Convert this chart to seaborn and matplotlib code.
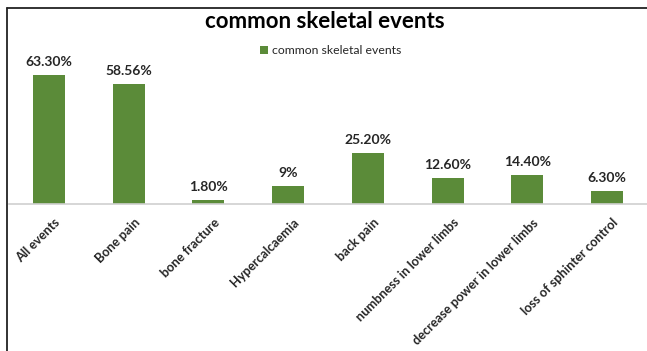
import matplotlib
matplotlib.use("Agg")
import matplotlib.pyplot as plt
import matplotlib.transforms as mtransforms
import seaborn as sns
import pandas as pd
from matplotlib.lines import Line2D
from matplotlib.patches import Patch

categories = ["All events", "Bone pain", "bone fracture", "Hypercalcaemia", "back pain",
              "numbness in lower limbs", "decrease power in lower limbs", "loss of sphinter control"]
values = [63.30, 58.56, 1.80, 9, 25.20, 12.60, 14.40, 6.30]
value_labels = ["63.30%", "58.56%", "1.80%", "9%", "25.20%", "12.60%", "14.40%", "6.30%"]
series_name = "common skeletal events"
title = "common skeletal events"

sns.set_theme(style="white")
plt.rcParams['font.family'] = ['Lato', 'DejaVu Sans']

W, H = 647, 351
fig = plt.figure(figsize=(W / 100, H / 100), dpi=100)
fig.patch.set_facecolor("white")

ax_left, ax_right = 9, 647
base_y, top_y = 204, 61
ax = fig.add_axes([ax_left / W, (H - base_y) / H, (ax_right - ax_left) / W, (base_y - top_y) / H])

df = pd.DataFrame({"category": categories, "value": values})
green = "#5b8b39"
sns.barplot(data=df, x="category", y="value", color=green, width=0.4, ax=ax,
            saturation=1, edgecolor="none")
ax.set_xlim(-0.5, len(categories) - 0.5)
ax.set_ylim(0, 70)

ax.bar_label(ax.containers[0], labels=value_labels, padding=5, fontsize=10,
             fontweight="bold", color="#262626")

for s in ["top", "right", "left"]:
    ax.spines[s].set_visible(False)
ax.spines["bottom"].set_color("#d0d0d0")
ax.spines["bottom"].set_linewidth(1.2)
ax.set_yticks([])
ax.set_xlabel("")
ax.set_ylabel("")
ax.tick_params(axis="x", length=0, pad=9)
ax.set_xticks(range(len(categories)))
ax.set_xticklabels(categories, rotation=45, ha="right", rotation_mode="anchor",
                   fontsize=9.2, fontweight="bold", color="#262626")
offset = mtransforms.ScaledTranslation(5 / 100, 0, fig.dpi_scale_trans)
for lbl in ax.get_xticklabels():
    lbl.set_transform(lbl.get_transform() + offset)
ax.patch.set_alpha(0)

fig.text(325 / W, 1 - 22 / H, title, ha="center", va="center", fontsize=16,
         fontweight="bold", color="#000000")

handle = Patch(facecolor=green, edgecolor="none")
fig.legend([handle], [series_name], loc="center", bbox_to_anchor=(331 / W, 1 - 51 / H),
           frameon=False, fontsize=8.8, handlelength=0.6, handleheight=0.6,
           handletextpad=0.4, borderpad=0)

# outer frame lines (top and left)
fig.add_artist(Line2D([7 / W, 1], [1 - 8 / H, 1 - 8 / H], color="#222222", lw=1.3,
                      transform=fig.transFigure))
fig.add_artist(Line2D([7 / W, 7 / W], [0, 1 - 8 / H], color="#222222", lw=1.3,
                      transform=fig.transFigure))

fig.savefig("out.png", dpi=100)
